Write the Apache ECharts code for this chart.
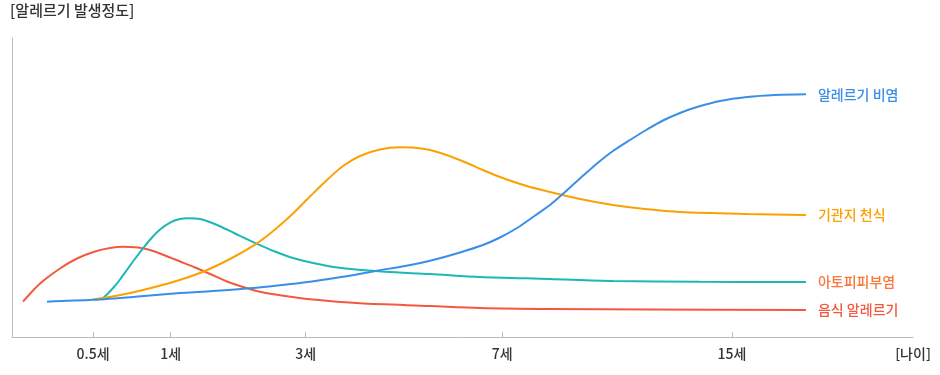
<!DOCTYPE html>
<html>
<head>
<meta charset="utf-8">
<script src="https://cdn.jsdelivr.net/npm/echarts@6/dist/echarts.min.js"></script>
<style>
html,body{margin:0;padding:0;background:#fff;}
#chart{width:940px;height:375px;}
</style>
</head>
<body>
<div id="chart"></div>
<script>
// x: relative position along the age axis (0-100), y: relative degree of allergy onset (0-100)
var tickPositions = [9.0, 17.6, 32.6, 54.4, 79.9];
var tickLabels = ['0.5세', '1세', '3세', '7세', '15세'];

var seriesNames = ['알레르기 비염', '기관지 천식', '아토피피부염', '음식 알레르기'];
var lineColors = ['#3a8ee8', '#fba102', '#1cb8b6', '#f25a3f'];
var labelColors = ['#3a8ee8', '#fba102', '#f7783a', '#f25a3f'];

var rhinitis = [[3.88,11.81],[8.99,12.44],[13.65,13.44],[18.31,14.62],[22.31,15.38],[26.42,16.29],[29.74,17.29],[33.07,18.49],[36.74,20.13],[40.51,22.17],[43.62,23.75],[46.73,25.75],[49.72,28.26],[52.27,30.77],[54.16,33.28],[56.05,36.45],[57.82,40.13],[59.71,44.15],[61.38,48.49],[63.04,53.01],[64.93,58.03],[66.70,62.21],[68.59,65.89],[70.48,69.40],[72.25,72.41],[74.14,74.92],[76.03,76.92],[78.58,78.93],[81.58,80.27],[84.68,80.94],[88.12,81.17]];
var asthma = [[8.99,12.54],[11.76,13.88],[14.54,15.72],[17.87,18.39],[21.20,21.84],[24.20,26.09],[27.19,31.34],[29.19,35.95],[31.19,41.30],[33.07,46.99],[34.96,52.51],[36.74,57.19],[38.62,60.54],[40.84,62.71],[43.06,63.44],[44.73,63.31],[46.39,62.54],[48.39,60.70],[50.50,58.19],[52.27,55.85],[54.16,53.51],[56.94,50.67],[59.71,48.49],[63.04,46.15],[66.70,44.15],[70.26,42.81],[74.14,41.81],[81.58,41.14],[88.12,40.80]];
var atopic = [[9.99,12.71],[10.65,14.55],[11.32,16.72],[11.99,19.23],[12.87,22.91],[13.76,26.59],[14.65,30.10],[15.54,33.28],[16.43,35.95],[17.54,38.29],[18.65,39.46],[19.53,39.70],[20.87,39.46],[22.64,37.63],[24.75,34.62],[27.08,31.34],[29.19,28.60],[31.19,26.42],[33.96,24.41],[36.74,22.98],[41.40,21.81],[46.39,21.07],[51.94,20.07],[59.71,19.40],[66.70,18.73],[76.36,18.49],[88.12,18.39]];
var food = [[1.22,11.81],[2.33,15.55],[3.44,18.73],[5.33,22.91],[7.21,26.25],[9.21,28.60],[10.88,29.77],[12.32,30.20],[13.98,29.93],[15.32,29.10],[16.98,27.26],[18.65,25.25],[20.31,23.24],[21.98,21.07],[23.86,18.56],[25.64,16.72],[27.52,15.15],[30.30,13.71],[33.07,12.61],[38.62,11.27],[46.39,10.37],[51.94,9.70],[59.71,9.36],[70.81,9.20],[88.12,9.03]];
var allData = [rhinitis, asthma, atopic, food];

var FONT = '"Noto Sans CJK KR", "Noto Sans", sans-serif';
var chart = echarts.init(document.getElementById('chart'), null, {renderer: 'canvas'});

var series = allData.map(function (d, i) {
  return {
    name: seriesNames[i],
    type: 'line',
    data: d,
    smooth: 0.3,
    symbol: 'none',
    lineStyle: {width: 2, color: lineColors[i]},
    itemStyle: {color: lineColors[i]},
    endLabel: {
      show: true,
      formatter: '{a}',
      distance: 12,
      color: labelColors[i],
      fontSize: 14,
      fontWeight: 500,
      fontFamily: FONT
    },
    z: 4 - i
  };
});

chart.setOption({
  animation: false,
  grid: {left: 12, right: 27, top: 38, bottom: 38, containLabel: false},
  xAxis: {
    type: 'value',
    min: 0,
    max: 100,
    name: '[나이]',
    nameLocation: 'end',
    nameGap: 0,
    nameTextStyle: {color: '#333', fontSize: 14, fontWeight: 500, fontFamily: FONT, align: 'center', verticalAlign: 'top', padding: [10, 0, 0, 0]},
    axisLine: {show: true, lineStyle: {color: '#bbbbbb', width: 1}},
    axisTick: {show: true, inside: true, length: 5, customValues: tickPositions, lineStyle: {color: '#bbbbbb'}},
    axisLabel: {
      show: true,
      customValues: tickPositions,
      margin: 10,
      color: '#333',
      fontSize: 14,
      fontWeight: 500,
      fontFamily: FONT,
      formatter: function (v) {
        for (var i = 0; i < tickPositions.length; i++) {
          if (Math.abs(tickPositions[i] - v) < 1e-6) return tickLabels[i];
        }
        return '';
      }
    },
    splitLine: {show: false}
  },
  yAxis: {
    type: 'value',
    min: 0,
    max: 100,
    name: '[알레르기 발생정도]',
    nameLocation: 'end',
    nameGap: 20,
    nameTextStyle: {color: '#333', fontSize: 15, fontWeight: 500, fontFamily: FONT, align: 'left', padding: [0, 0, 0, -2]},
    axisLine: {show: true, lineStyle: {color: '#bbbbbb', width: 1}},
    axisTick: {show: false},
    axisLabel: {show: false},
    splitLine: {show: false}
  },
  series: series
});
</script>
</body>
</html>
